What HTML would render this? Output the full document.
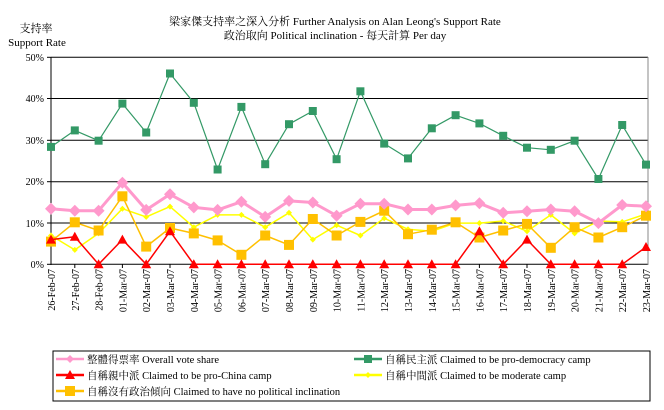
<!DOCTYPE html>
<html><head><meta charset="utf-8"><style>
html,body{margin:0;padding:0;background:#fff;}
svg{display:block;font-family:"Liberation Serif","Noto Serif CJK SC","Noto Sans CJK TC",serif;}
</style></head><body>
<svg width="664" height="410" viewBox="0 0 664 410" xmlns="http://www.w3.org/2000/svg">
<defs>
<marker id="mg" markerWidth="10" markerHeight="10" refX="5" refY="5" markerUnits="userSpaceOnUse"><rect x="1" y="1" width="8" height="8" fill="#339966"/></marker>
<marker id="mp" markerWidth="14" markerHeight="14" refX="7" refY="7" markerUnits="userSpaceOnUse"><polygon points="7,1 13,7 7,13 1,7" fill="#FF99CC"/></marker>
<marker id="mr" markerWidth="12" markerHeight="12" refX="6" refY="6" markerUnits="userSpaceOnUse"><polygon points="6,1 11,10 1,10" fill="#FF0000"/></marker>
<marker id="my" markerWidth="8" markerHeight="8" refX="4" refY="4" markerUnits="userSpaceOnUse"><polygon points="4,1 7,4 4,7 1,4" fill="#FFFF00"/></marker>
<marker id="mo" markerWidth="12" markerHeight="12" refX="6" refY="6" markerUnits="userSpaceOnUse"><rect x="1" y="1" width="10" height="10" fill="#FFC000"/></marker>
</defs>
<g font-size="11" text-anchor="middle" fill="#000">
<text x="335" y="25">梁家傑支持率之深入分析 Further Analysis on Alan Leong's Support Rate</text>
<text x="335" y="39">政治取向 Political inclination - 每天計算 Per day</text>
</g>
<g font-size="11" text-anchor="middle">
<text x="36" y="32">支持率</text>
<text x="37" y="46">Support Rate</text>
</g>
<g stroke="#000" stroke-width="1">
<line x1="51" y1="57.3" x2="648" y2="57.3"/>
<line x1="51" y1="98.5" x2="648" y2="98.5"/>
<line x1="51" y1="140.3" x2="648" y2="140.3"/>
<line x1="51" y1="181.7" x2="648" y2="181.7"/>
<line x1="51" y1="223" x2="648" y2="223"/>
<line x1="51" y1="264.3" x2="648" y2="264.3"/>
<line x1="51" y1="57" x2="51" y2="265"/>
<line x1="47" y1="57.3" x2="51" y2="57.3"/><line x1="47" y1="98.5" x2="51" y2="98.5"/><line x1="47" y1="140.3" x2="51" y2="140.3"/><line x1="47" y1="181.7" x2="51" y2="181.7"/><line x1="47" y1="223" x2="51" y2="223"/><line x1="47" y1="264.3" x2="51" y2="264.3"/>
</g>
<line x1="648" y1="57" x2="648" y2="265" stroke="#888" stroke-width="1"/>
<g font-size="10" text-anchor="end">
<text x="44" y="61">50%</text><text x="44" y="102">40%</text><text x="44" y="144">30%</text><text x="44" y="185">20%</text><text x="44" y="227">10%</text><text x="44" y="268">0%</text>
</g>
<g stroke="#000" stroke-width="1">
<line x1="74.8" y1="264" x2="74.8" y2="268"/><line x1="98.6" y1="264" x2="98.6" y2="268"/><line x1="122.4" y1="264" x2="122.4" y2="268"/><line x1="146.2" y1="264" x2="146.2" y2="268"/><line x1="170" y1="264" x2="170" y2="268"/><line x1="193.8" y1="264" x2="193.8" y2="268"/><line x1="217.6" y1="264" x2="217.6" y2="268"/><line x1="241.4" y1="264" x2="241.4" y2="268"/><line x1="265.2" y1="264" x2="265.2" y2="268"/><line x1="289" y1="264" x2="289" y2="268"/><line x1="312.8" y1="264" x2="312.8" y2="268"/><line x1="336.6" y1="264" x2="336.6" y2="268"/><line x1="360.4" y1="264" x2="360.4" y2="268"/><line x1="384.2" y1="264" x2="384.2" y2="268"/><line x1="408" y1="264" x2="408" y2="268"/><line x1="431.8" y1="264" x2="431.8" y2="268"/><line x1="455.6" y1="264" x2="455.6" y2="268"/><line x1="479.4" y1="264" x2="479.4" y2="268"/><line x1="503.2" y1="264" x2="503.2" y2="268"/><line x1="527" y1="264" x2="527" y2="268"/><line x1="550.8" y1="264" x2="550.8" y2="268"/><line x1="574.6" y1="264" x2="574.6" y2="268"/><line x1="598.4" y1="264" x2="598.4" y2="268"/><line x1="622.2" y1="264" x2="622.2" y2="268"/>
</g>
<g font-size="10" text-anchor="end">
<text transform="translate(55,269) rotate(-90)">26-Feb-07</text>
<text transform="translate(78.8,269) rotate(-90)">27-Feb-07</text>
<text transform="translate(102.6,269) rotate(-90)">28-Feb-07</text>
<text transform="translate(126.4,269) rotate(-90)">01-Mar-07</text>
<text transform="translate(150.2,269) rotate(-90)">02-Mar-07</text>
<text transform="translate(174,269) rotate(-90)">03-Mar-07</text>
<text transform="translate(197.8,269) rotate(-90)">04-Mar-07</text>
<text transform="translate(221.6,269) rotate(-90)">05-Mar-07</text>
<text transform="translate(245.4,269) rotate(-90)">06-Mar-07</text>
<text transform="translate(269.2,269) rotate(-90)">07-Mar-07</text>
<text transform="translate(293,269) rotate(-90)">08-Mar-07</text>
<text transform="translate(316.8,269) rotate(-90)">09-Mar-07</text>
<text transform="translate(340.6,269) rotate(-90)">10-Mar-07</text>
<text transform="translate(364.4,269) rotate(-90)">11-Mar-07</text>
<text transform="translate(388.2,269) rotate(-90)">12-Mar-07</text>
<text transform="translate(412,269) rotate(-90)">13-Mar-07</text>
<text transform="translate(435.8,269) rotate(-90)">14-Mar-07</text>
<text transform="translate(459.6,269) rotate(-90)">15-Mar-07</text>
<text transform="translate(483.4,269) rotate(-90)">16-Mar-07</text>
<text transform="translate(507.2,269) rotate(-90)">17-Mar-07</text>
<text transform="translate(531,269) rotate(-90)">18-Mar-07</text>
<text transform="translate(554.8,269) rotate(-90)">19-Mar-07</text>
<text transform="translate(578.6,269) rotate(-90)">20-Mar-07</text>
<text transform="translate(602.4,269) rotate(-90)">21-Mar-07</text>
<text transform="translate(626.2,269) rotate(-90)">22-Mar-07</text>
<text transform="translate(650,269) rotate(-90)">23-Mar-07</text>
</g>
<g fill="none" stroke-linejoin="round">
<polyline stroke="#339966" stroke-width="1.2" marker-start="url(#mg)" marker-mid="url(#mg)" marker-end="url(#mg)" points="51,146.9 74.8,130.4 98.6,140.7 122.4,103.6 146.2,132.5 170,73.5 193.8,102.8 217.6,169.5 241.4,106.9 265.2,164.2 289,124.2 312.8,111 336.6,159.2 360.4,91.3 384.2,143.6 408,158.4 431.8,128.3 455.6,115.2 479.4,123.4 503.2,135.8 527,147.7 550.8,149.8 574.6,140.7 598.4,179 622.2,125 646,164.6"/>
<polyline stroke="#FFFF00" stroke-width="1.5" marker-start="url(#my)" marker-mid="url(#my)" marker-end="url(#my)" points="51,235.5 74.8,249.9 98.6,233.4 122.4,208.7 146.2,216.9 170,206.6 193.8,227.2 217.6,214.9 241.4,214.9 265.2,227.2 289,212.8 312.8,239.6 336.6,225.2 360.4,235.5 384.2,218.2 408,229.3 431.8,231.3 455.6,223.1 479.4,223.1 503.2,221 527,231.3 550.8,214.9 574.6,233.4 598.4,221 622.2,221.9 646,214"/>
<polyline stroke="#FFC000" stroke-width="1.5" marker-start="url(#mo)" marker-mid="url(#mo)" marker-end="url(#mo)" points="51,241.6 74.8,222.3 98.6,230.5 122.4,196.3 146.2,246.6 170,228 193.8,233.4 217.6,240.4 241.4,254.8 265.2,235.5 289,244.9 312.8,219 336.6,235.5 360.4,221.9 384.2,210.7 408,234.2 431.8,229.7 455.6,222.3 479.4,237.5 503.2,230.5 527,223.9 550.8,247.8 574.6,227.2 598.4,237.5 622.2,227.2 646,215.7"/>
<polyline stroke="#FF99CC" stroke-width="3" marker-start="url(#mp)" marker-mid="url(#mp)" marker-end="url(#mp)" points="51,208.7 74.8,210.7 98.6,210.7 122.4,182.7 146.2,209.9 170,194.3 193.8,207.4 217.6,209.9 241.4,201.7 265.2,216.9 289,200.9 312.8,202.5 336.6,215.7 360.4,203.7 384.2,203.7 408,209.5 431.8,209.5 455.6,205.4 479.4,203.3 503.2,212.8 527,211.2 550.8,209.5 574.6,211.2 598.4,223.1 622.2,205 646,206.2"/>
<polyline stroke="#FF0000" stroke-width="1.5" marker-start="url(#mr)" marker-mid="url(#mr)" marker-end="url(#mr)" points="51,239.6 74.8,236.7 98.6,264.3 122.4,239.6 146.2,264.3 170,231.3 193.8,264.3 217.6,264.3 241.4,264.3 265.2,264.3 289,264.3 312.8,264.3 336.6,264.3 360.4,264.3 384.2,264.3 408,264.3 431.8,264.3 455.6,264.3 479.4,231.3 503.2,264.3 527,239.6 550.8,264.3 574.6,264.3 598.4,264.3 622.2,264.3 646,247"/>
</g>
<rect x="53" y="351" width="597" height="50" fill="#fff" stroke="#000" stroke-width="1"/>
<g stroke-width="2.5">
<line x1="56" y1="359" x2="84" y2="359" stroke="#FF99CC" marker-mid="url(#mp)"/>
<line x1="354" y1="359" x2="382" y2="359" stroke="#339966"/>
<line x1="56" y1="375" x2="84" y2="375" stroke="#FF0000"/>
<line x1="354" y1="375" x2="382" y2="375" stroke="#FFFF00"/>
<line x1="56" y1="391" x2="84" y2="391" stroke="#FFC000"/>
</g>
<polygon points="70,355 74,359 70,363 66,359" fill="#FF99CC"/>
<rect x="364" y="355" width="8" height="8" fill="#339966"/>
<polygon points="70,370 75,379 65,379" fill="#FF0000"/>
<polygon points="368,372 371,375 368,378 365,375" fill="#FFFF00"/>
<rect x="65" y="386" width="10" height="10" fill="#FFC000"/>
<g font-size="10.5">
<text x="87" y="363">整體得票率 Overall vote share</text>
<text x="385" y="363">自稱民主派 Claimed to be pro-democracy camp</text>
<text x="87" y="379">自稱親中派 Claimed to be pro-China camp</text>
<text x="385" y="379">自稱中間派 Claimed to be moderate camp</text>
<text x="87" y="395">自稱沒有政治傾向 Claimed to have no political inclination</text>
</g>
</svg>
</body></html>
